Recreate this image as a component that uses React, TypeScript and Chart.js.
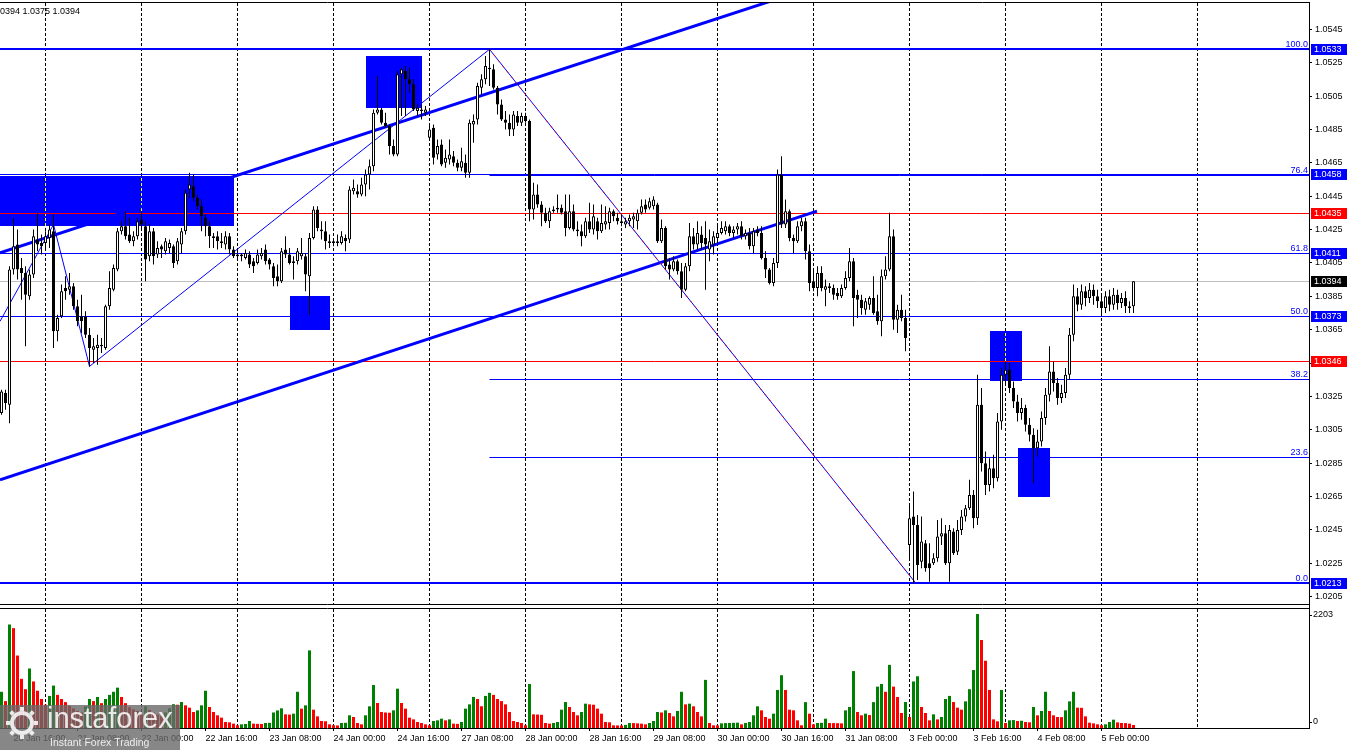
import React, { useEffect, useRef } from "react";
import { Chart, registerables } from "chart.js";

Chart.register(...registerables);

// ---------- data (EURUSD H1, 20 Jan 13:00 .. 5 Feb 08:00) ----------
const OPEN = [
  1.0315,1.0327,1.0320,1.0401,1.0416,1.0402,1.0399,1.0385,1.0398,1.0419,
  1.0417,1.0417,1.0420,1.0424,1.0364,1.0373,1.0390,1.0389,1.0391,1.0379,
  1.0373,1.0373,1.0362,1.0353,1.0354,1.0356,1.0354,1.0379,1.0389,1.0401,
  1.0424,1.0427,1.0422,1.0418,1.0421,1.0431,1.0427,1.0409,1.0424,1.0410,
  1.0415,1.0412,1.0414,1.0415,1.0406,1.0416,1.0424,1.0449,1.0451,1.0444,
  1.0439,1.0432,1.0427,1.0421,1.0421,1.0418,1.0416,1.0421,1.0413,1.0409,
  1.0409,1.0408,1.0410,1.0406,1.0405,1.0409,1.0413,1.0407,1.0403,1.0397,
  1.0394,1.0413,1.0410,1.0406,1.0406,1.0409,1.0409,1.0397,1.0420,1.0437,
  1.0425,1.0424,1.0417,1.0418,1.0417,1.0417,1.0420,1.0419,1.0448,1.0448,
  1.0446,1.0452,1.0458,1.0463,1.0495,1.0497,1.0489,1.0487,1.0475,1.0470,
  1.0518,1.0520,1.0515,1.0512,1.0496,1.0497,1.0495,1.0480,1.0486,1.0470,
  1.0476,1.0465,1.0467,1.0469,1.0465,1.0462,1.0465,1.0459,1.0488,1.0491,
  1.0510,1.0515,1.0522,1.0521,1.0510,1.0500,1.0491,1.0489,1.0485,1.0493,
  1.0489,1.0493,1.0490,1.0437,1.0446,1.0440,1.0435,1.0430,1.0436,1.0437,
  1.0438,1.0436,1.0426,1.0436,1.0425,1.0424,1.0421,1.0430,1.0425,1.0430,
  1.0424,1.0428,1.0429,1.0436,1.0432,1.0430,1.0428,1.0430,1.0431,1.0430,
  1.0435,1.0440,1.0438,1.0439,1.0440,1.0418,1.0426,1.0404,1.0401,1.0406,
  1.0400,1.0389,1.0403,1.0421,1.0416,1.0422,1.0420,1.0413,1.0416,1.0420,
  1.0423,1.0424,1.0427,1.0423,1.0425,1.0427,1.0421,1.0423,1.0415,1.0425,
  1.0423,1.0408,1.0401,1.0393,1.0405,1.0458,1.0428,1.0436,1.0420,1.0418,
  1.0427,1.0430,1.0412,1.0394,1.0390,1.0399,1.0389,1.0391,1.0390,1.0387,
  1.0385,1.0390,1.0396,1.0406,1.0386,1.0383,1.0377,1.0380,1.0384,1.0376,
  1.0370,1.0397,1.0401,1.0421,1.0371,1.0377,1.0372,1.0236,1.0253,1.0248,
  1.0226,1.0237,1.0225,1.0225,1.0228,1.0241,1.0243,1.0225,1.0244,1.0232,
  1.0245,1.0253,1.0258,1.0266,1.0252,1.0320,1.0285,1.0272,1.0282,1.0276,
  1.0310,1.0338,1.0341,1.0330,1.0322,1.0315,1.0318,1.0308,1.0302,1.0294,
  1.0298,1.0312,1.0326,1.0340,1.0333,1.0324,1.0327,1.0338,1.0362,1.0385,
  1.0380,1.0388,1.0384,1.0389,1.0385,1.0382,1.0378,1.0385,1.0380,1.0386,
  1.0381,1.0384,1.0379,1.0379,
];
const HIGH = [
  1.0329,1.0329,1.0403,1.0432,1.0425,1.0408,1.0403,1.0401,1.0425,1.0435,
  1.0422,1.0424,1.0428,1.0434,1.0374,1.0392,1.0397,1.0399,1.0393,1.0383,
  1.0386,1.0376,1.0366,1.0360,1.0362,1.0360,1.0380,1.0400,1.0404,1.0426,
  1.0430,1.0436,1.0432,1.0424,1.0432,1.0436,1.0430,1.0428,1.0426,1.0418,
  1.0416,1.0420,1.0419,1.0416,1.0420,1.0426,1.0449,1.0459,1.0458,1.0446,
  1.0443,1.0434,1.0430,1.0423,1.0424,1.0423,1.0424,1.0423,1.0415,1.0413,
  1.0411,1.0413,1.0412,1.0408,1.0413,1.0414,1.0416,1.0408,1.0405,1.0404,
  1.0414,1.0421,1.0414,1.0409,1.0414,1.0420,1.0411,1.0423,1.0439,1.0439,
  1.0430,1.0430,1.0422,1.0420,1.0422,1.0424,1.0422,1.0451,1.0455,1.0452,
  1.0456,1.0461,1.0467,1.0497,1.0517,1.0498,1.0495,1.0488,1.0479,1.0520,
  1.0522,1.0523,1.0522,1.0515,1.0500,1.0500,1.0499,1.0488,1.0488,1.0479,
  1.0479,1.0473,1.0479,1.0472,1.0467,1.0474,1.0470,1.0491,1.0494,1.0513,
  1.0518,1.0529,1.0533,1.0524,1.0511,1.0503,1.0496,1.0494,1.0496,1.0496,
  1.0495,1.0495,1.0491,1.0453,1.0452,1.0442,1.0438,1.0438,1.0439,1.0446,
  1.0440,1.0446,1.0446,1.0440,1.0430,1.0428,1.0432,1.0441,1.0440,1.0432,
  1.0440,1.0439,1.0438,1.0437,1.0435,1.0434,1.0432,1.0434,1.0435,1.0437,
  1.0443,1.0443,1.0444,1.0445,1.0441,1.0431,1.0427,1.0408,1.0409,1.0407,
  1.0405,1.0405,1.0429,1.0426,1.0430,1.0427,1.0430,1.0425,1.0424,1.0428,
  1.0430,1.0430,1.0428,1.0427,1.0429,1.0430,1.0425,1.0426,1.0426,1.0427,
  1.0427,1.0412,1.0402,1.0408,1.0461,1.0469,1.0443,1.0437,1.0422,1.0430,
  1.0432,1.0432,1.0416,1.0402,1.0403,1.0403,1.0395,1.0393,1.0392,1.0390,
  1.0392,1.0400,1.0414,1.0408,1.0389,1.0386,1.0384,1.0385,1.0397,1.0386,
  1.0401,1.0409,1.0435,1.0425,1.0380,1.0386,1.0377,1.0260,1.0268,1.0254,
  1.0253,1.0239,1.0237,1.0231,1.0251,1.0252,1.0248,1.0248,1.0246,1.0251,
  1.0257,1.0260,1.0275,1.0269,1.0338,1.0330,1.0292,1.0288,1.0290,1.0315,
  1.0342,1.0346,1.0345,1.0334,1.0326,1.0324,1.0320,1.0312,1.0306,1.0305,
  1.0316,1.0330,1.0355,1.0346,1.0336,1.0332,1.0342,1.0366,1.0392,1.0390,
  1.0392,1.0391,1.0393,1.0392,1.0389,1.0386,1.0388,1.0389,1.0390,1.0389,
  1.0387,1.0388,1.0382,1.0394,
];
const LOW = [
  1.0314,1.0317,1.0309,1.0398,1.0395,1.0383,1.0355,1.0383,1.0396,1.0412,
  1.0410,1.0414,1.0414,1.0354,1.0358,1.0372,1.0383,1.0386,1.0377,1.0367,
  1.0363,1.0360,1.0343,1.0345,1.0344,1.0351,1.0353,1.0377,1.0388,1.0400,
  1.0422,1.0419,1.0417,1.0415,1.0419,1.0426,1.0394,1.0406,1.0404,1.0408,
  1.0408,1.0410,1.0411,1.0402,1.0404,1.0411,1.0422,1.0444,1.0442,1.0437,
  1.0424,1.0421,1.0414,1.0414,1.0413,1.0414,1.0413,1.0410,1.0408,1.0407,
  1.0406,1.0407,1.0402,1.0399,1.0404,1.0407,1.0404,1.0401,1.0391,1.0391,
  1.0393,1.0408,1.0404,1.0395,1.0404,1.0407,1.0388,1.0374,1.0419,1.0424,
  1.0419,1.0413,1.0414,1.0415,1.0415,1.0416,1.0412,1.0417,1.0446,1.0444,
  1.0445,1.0445,1.0449,1.0460,1.0494,1.0488,1.0486,1.0470,1.0469,1.0469,
  1.0493,1.0493,1.0507,1.0496,1.0493,1.0491,1.0493,1.0479,1.0464,1.0467,
  1.0463,1.0462,1.0464,1.0463,1.0460,1.0460,1.0456,1.0456,1.0477,1.0488,
  1.0506,1.0512,1.0511,1.0509,1.0494,1.0490,1.0485,1.0481,1.0481,1.0487,
  1.0487,1.0489,1.0430,1.0431,1.0438,1.0427,1.0429,1.0426,1.0435,1.0435,
  1.0434,1.0421,1.0425,1.0424,1.0421,1.0415,1.0420,1.0423,1.0422,1.0419,
  1.0423,1.0425,1.0425,1.0430,1.0428,1.0427,1.0426,1.0427,1.0426,1.0425,
  1.0434,1.0435,1.0437,1.0437,1.0417,1.0417,1.0401,1.0395,1.0400,1.0398,
  1.0384,1.0388,1.0400,1.0413,1.0413,1.0413,1.0389,1.0406,1.0410,1.0417,
  1.0422,1.0422,1.0421,1.0420,1.0422,1.0419,1.0419,1.0413,1.0411,1.0421,
  1.0407,1.0396,1.0392,1.0391,1.0402,1.0426,1.0426,1.0418,1.0411,1.0417,
  1.0424,1.0407,1.0388,1.0388,1.0385,1.0388,1.0379,1.0387,1.0383,1.0383,
  1.0384,1.0389,1.0394,1.0367,1.0372,1.0374,1.0374,1.0377,1.0374,1.0368,
  1.0361,1.0395,1.0400,1.0365,1.0363,1.0370,1.0352,1.0227,1.0213,1.0215,
  1.0222,1.0220,1.0214,1.0224,1.0226,1.0236,1.0224,1.0214,1.0230,1.0230,
  1.0242,1.0250,1.0257,1.0246,1.0248,1.0280,1.0266,1.0268,1.0270,1.0274,
  1.0305,1.0333,1.0327,1.0318,1.0310,1.0311,1.0304,1.0298,1.0273,1.0289,
  1.0295,1.0308,1.0322,1.0328,1.0320,1.0321,1.0324,1.0335,1.0358,1.0376,
  1.0377,1.0379,1.0381,1.0380,1.0378,1.0374,1.0375,1.0376,1.0377,1.0377,
  1.0378,1.0375,1.0375,1.0375,
];
const CLOSE = [
  1.0328,1.0321,1.0401,1.0415,1.0401,1.0399,1.0386,1.0398,1.0421,1.0416,
  1.0415,1.0421,1.0425,1.0364,1.0372,1.0388,1.0388,1.0391,1.0379,1.0370,
  1.0370,1.0362,1.0354,1.0355,1.0356,1.0355,1.0379,1.0390,1.0402,1.0424,
  1.0427,1.0421,1.0418,1.0421,1.0430,1.0428,1.0407,1.0424,1.0409,1.0414,
  1.0413,1.0418,1.0417,1.0405,1.0418,1.0424,1.0447,1.0452,1.0444,1.0439,
  1.0433,1.0427,1.0421,1.0420,1.0418,1.0417,1.0421,1.0413,1.0409,1.0410,
  1.0410,1.0411,1.0404,1.0403,1.0410,1.0411,1.0406,1.0404,1.0396,1.0394,
  1.0412,1.0410,1.0405,1.0405,1.0412,1.0411,1.0398,1.0420,1.0437,1.0426,
  1.0424,1.0418,1.0418,1.0417,1.0418,1.0421,1.0418,1.0449,1.0450,1.0446,
  1.0452,1.0458,1.0463,1.0495,1.0497,1.0489,1.0487,1.0475,1.0470,1.0518,
  1.0521,1.0515,1.0512,1.0497,1.0498,1.0496,1.0497,1.0485,1.0468,1.0475,
  1.0464,1.0468,1.0470,1.0465,1.0462,1.0466,1.0459,1.0489,1.0490,1.0511,
  1.0515,1.0523,1.0521,1.0510,1.0500,1.0491,1.0489,1.0485,1.0494,1.0489,
  1.0493,1.0490,1.0437,1.0446,1.0440,1.0435,1.0430,1.0436,1.0437,1.0438,
  1.0435,1.0426,1.0436,1.0425,1.0424,1.0421,1.0430,1.0425,1.0433,1.0424,
  1.0429,1.0430,1.0436,1.0433,1.0430,1.0429,1.0430,1.0432,1.0433,1.0435,
  1.0439,1.0437,1.0442,1.0443,1.0418,1.0426,1.0403,1.0401,1.0406,1.0400,
  1.0389,1.0403,1.0421,1.0416,1.0423,1.0417,1.0416,1.0418,1.0421,1.0423,
  1.0426,1.0427,1.0423,1.0425,1.0427,1.0421,1.0423,1.0415,1.0424,1.0423,
  1.0408,1.0401,1.0393,1.0405,1.0458,1.0428,1.0436,1.0420,1.0418,1.0427,
  1.0430,1.0412,1.0393,1.0390,1.0399,1.0390,1.0391,1.0390,1.0386,1.0385,
  1.0390,1.0396,1.0406,1.0384,1.0383,1.0378,1.0382,1.0384,1.0375,1.0370,
  1.0397,1.0401,1.0421,1.0371,1.0377,1.0372,1.0360,1.0252,1.0248,1.0224,
  1.0238,1.0222,1.0222,1.0228,1.0241,1.0243,1.0225,1.0245,1.0231,1.0245,
  1.0253,1.0258,1.0266,1.0252,1.0320,1.0285,1.0272,1.0282,1.0276,1.0310,
  1.0338,1.0341,1.0330,1.0322,1.0315,1.0318,1.0308,1.0302,1.0294,1.0298,
  1.0312,1.0326,1.0340,1.0333,1.0324,1.0327,1.0338,1.0362,1.0385,1.0380,
  1.0388,1.0384,1.0389,1.0385,1.0382,1.0378,1.0385,1.0380,1.0386,1.0381,
  1.0384,1.0379,1.0378,1.0394,
];
const VOLUME = [
  700,520,2000,1930,1400,950,750,1150,900,720,
  560,450,620,820,640,560,500,430,380,330,
  300,420,560,520,600,480,560,640,700,780,
  600,480,400,360,330,260,420,350,300,260,
  230,300,380,460,450,502,438,393,309,341,
  438,720,406,309,245,200,116,110,84,52,
  71,78,135,84,80,78,97,100,300,340,
  380,264,260,277,700,374,438,1500,354,225,
  135,130,71,52,50,97,100,245,213,97,
  71,245,419,830,483,309,300,295,341,760,
  483,374,200,167,116,97,71,52,135,148,
  180,148,167,84,80,116,374,457,600,560,
  420,620,680,640,560,520,457,309,135,116,
  97,52,850,264,260,255,97,84,97,116,
  354,502,406,309,245,309,470,457,450,374,
  277,116,110,52,50,48,60,97,95,90,
  84,71,97,135,309,300,341,290,225,328,
  700,457,470,419,309,225,930,97,52,50,
  90,95,98,100,103,71,97,116,245,419,
  341,213,180,277,735,1020,735,354,341,148,
  52,500,277,71,97,100,180,97,95,93,
  90,341,406,1100,309,245,277,250,500,800,
  850,700,1220,800,600,290,503,213,900,1000,
  406,290,148,264,167,213,560,620,502,393,
  354,515,750,1120,2203,1700,1300,735,167,129,
  735,97,148,153,135,140,116,110,406,245,
  328,700,328,245,213,210,341,515,700,393,
  390,225,103,90,71,52,71,116,161,109,
  97,95,84,58,
];

// ---------- axis labels ----------
const X_TICK_INDEX = [3,19,35,51,67,83,99,115,131,147,163,179,195,211,227,243,259,275];
const X_TICK_LABELS = [
  "20 Jan 16:00","21 Jan 08:00","22 Jan 00:00","22 Jan 16:00","23 Jan 08:00","24 Jan 00:00",
  "24 Jan 16:00","27 Jan 08:00","28 Jan 00:00","28 Jan 16:00","29 Jan 08:00","30 Jan 00:00",
  "30 Jan 16:00","31 Jan 08:00","3 Feb 00:00","3 Feb 16:00","4 Feb 08:00","5 Feb 00:00",
];
const DAY_START_INDEX = [11,35,59,83,107,131,155,179,203,227,251,275,299];
const PRICE_TICKS = [
  1.0205,1.0225,1.0245,1.0265,1.0285,1.0305,1.0325,1.0345,1.0365,
  1.0385,1.0405,1.0425,1.0445,1.0465,1.0485,1.0505,1.0525,1.0545,
];
const VOLUME_TICKS = [2203, 0];

// ---------- chart objects ----------
const H_LINES = [1.0533, 1.0458, 1.0435, 1.0411, 1.0373, 1.0346, 1.0213];
const H_LINE_COLORS = ["#0000ff","#0000ff","#ff0000","#0000ff","#0000ff","#ff0000","#0000ff"];
const H_LINE_WIDTHS = [2, 1, 1, 1, 1, 1, 2];
const CURRENT_PRICE = 1.0394;
const PRICE_TAGS = [1.0533, 1.0458, 1.0435, 1.0411, 1.0394, 1.0373, 1.0346, 1.0213];
const PRICE_TAG_COLORS = ["#0000ff","#0000ff","#ff0000","#0000ff","#000000","#0000ff","#ff0000","#0000ff"];

const FIB_LEVELS = [0, 23.6, 38.2, 50, 61.8, 76.4, 100];
const FIB_HIGH = 1.0533;
const FIB_LOW = 1.0213;
const FIB_START = 122;
const FIB_END = 228.6;

const RECT_X1 = [-5, 91, 72, 247, 254];
const RECT_X2 = [58, 105, 82, 255, 262];
const RECT_TOP = [1.0457, 1.0529, 1.0385, 1.0364, 1.0294];
const RECT_BOTTOM = [1.0427, 1.0498, 1.0365, 1.0334, 1.0265];

const CHANNEL_X1 = [-0.375, -0.375];
const CHANNEL_P1 = [1.0275, 1.0411];
const CHANNEL_X2 = [203.875, 195];
const CHANNEL_P2 = [1.0436, 1.0564];

const ZIGZAG_X = [-0.375, 13, 22, 122];
const ZIGZAG_P = [1.0370, 1.0428, 1.0343, 1.0533];

// ---------- layout constants ----------
const PRICE_MIN = 1.012631;
const PRICE_MAX = 1.056076;
const PRICE_PANEL_BOTTOM = 1.020062;
const VOLUME_AXIS_MAX = 14010;
const VOLUME_PANEL_TOP = 2300;
const FONT = '"Liberation Sans", Arial, sans-serif';

const overlayPlugin = {
  id: "mt4overlay",
  beforeDraw(chart: any) {
    const { ctx } = chart;
    ctx.save();
    ctx.fillStyle = "#ffffff";
    ctx.fillRect(0, 0, chart.width, chart.height);
    ctx.restore();
  },
  beforeDatasetsDraw(chart: any) {
    const { ctx, chartArea } = chart;
    const xs = chart.scales.x, ys = chart.scales.y, vs = chart.scales.yv;
    const px = (i: number) => xs.getPixelForValue(i);
    const py = (p: number) => ys.getPixelForValue(p);
    const left = chartArea.left, right = chartArea.right, top = chartArea.top;
    const pBottom = Math.round(py(PRICE_PANEL_BOTTOM));
    const vTop = Math.round(vs.getPixelForValue(VOLUME_PANEL_TOP));
    const vBottom = chartArea.bottom;

    ctx.save();
    // separators in volume panel
    ctx.strokeStyle = "#000";
    ctx.lineWidth = 1;
    ctx.setLineDash([3, 2]);
    for (const d of DAY_START_INDEX) {
      const x = Math.floor(px(d)) + 0.5;
      ctx.beginPath(); ctx.moveTo(x, vTop); ctx.lineTo(x, vBottom); ctx.stroke();
    }
    ctx.setLineDash([]);

    // clip to price panel
    ctx.beginPath();
    ctx.rect(left, top, right - left, pBottom - top);
    ctx.clip();

    // rectangles
    ctx.fillStyle = "#0000ff";
    RECT_X1.forEach((x1, k) => {
      const a = Math.round(px(x1)), b = Math.round(px(RECT_X2[k]));
      const t = Math.round(py(RECT_TOP[k])), bt = Math.round(py(RECT_BOTTOM[k]));
      ctx.fillRect(a, t, b - a, bt - t);
    });

    // day separators (inverted over objects)
    ctx.save();
    ctx.globalCompositeOperation = "difference";
    ctx.strokeStyle = "#ffffff";
    ctx.setLineDash([3, 2]);
    for (const d of DAY_START_INDEX) {
      const x = Math.floor(px(d)) + 0.5;
      ctx.beginPath(); ctx.moveTo(x, top); ctx.lineTo(x, pBottom); ctx.stroke();
    }
    ctx.restore();

    const hline = (p: number, color: string, w: number, x0: number) => {
      const y = Math.round(py(p)) + (w % 2 ? 0.5 : 0);
      ctx.strokeStyle = color;
      ctx.lineWidth = w;
      ctx.beginPath(); ctx.moveTo(x0, y); ctx.lineTo(right, y); ctx.stroke();
    };
    hline(CURRENT_PRICE, "#c0c0c0", 1, left);
    FIB_LEVELS.forEach((l) => hline(FIB_LOW + ((FIB_HIGH - FIB_LOW) * l) / 100, "#0000ff", 1, px(FIB_START)));
    H_LINES.forEach((p, k) => hline(p, H_LINE_COLORS[k], H_LINE_WIDTHS[k], left));

    // channel lines
    ctx.strokeStyle = "#0000ff";
    ctx.lineWidth = 3;
    CHANNEL_X1.forEach((x1, k) => {
      ctx.beginPath();
      ctx.moveTo(px(x1), py(CHANNEL_P1[k]));
      ctx.lineTo(px(CHANNEL_X2[k]), py(CHANNEL_P2[k]));
      ctx.stroke();
    });

    // zigzag thin line
    ctx.lineWidth = 1;
    ctx.beginPath();
    ZIGZAG_X.forEach((x, k) => {
      const X = px(x), Y = py(ZIGZAG_P[k]);
      if (k === 0) ctx.moveTo(X, Y); else ctx.lineTo(X, Y);
    });
    ctx.stroke();

    // fibo base line (blue / red dotted)
    const fx1 = px(FIB_START), fy1 = py(FIB_HIGH), fx2 = px(FIB_END), fy2 = py(FIB_LOW);
    ctx.strokeStyle = "#0000ff";
    ctx.beginPath(); ctx.moveTo(fx1, fy1); ctx.lineTo(fx2, fy2); ctx.stroke();
    ctx.strokeStyle = "#ff0000";
    ctx.setLineDash([2, 5]);
    ctx.beginPath(); ctx.moveTo(fx1, fy1); ctx.lineTo(fx2, fy2); ctx.stroke();
    ctx.setLineDash([]);
    ctx.restore();
  },
  afterDraw(chart: any) {
    const { ctx, chartArea } = chart;
    const xs = chart.scales.x, ys = chart.scales.y, vs = chart.scales.yv;
    const py = (p: number) => ys.getPixelForValue(p);
    const right = chartArea.right, top = chartArea.top;
    const pBottom = Math.round(py(PRICE_PANEL_BOTTOM));
    const vTop = Math.round(vs.getPixelForValue(VOLUME_PANEL_TOP));
    ctx.save();

    // gap between panels + borders
    ctx.fillStyle = "#ffffff";
    ctx.fillRect(0, pBottom + 1, right, vTop - pBottom - 2);
    ctx.strokeStyle = "#000";
    ctx.lineWidth = 1;
    const hl = (y: number) => { ctx.beginPath(); ctx.moveTo(0, y); ctx.lineTo(right + 1, y); ctx.stroke(); };
    hl(top - 0.5);
    hl(pBottom + 0.5);
    hl(vTop - 0.5);

    // price tags
    ctx.font = `9px ${FONT}`;
    ctx.textBaseline = "middle";
    ctx.textAlign = "left";
    PRICE_TAGS.forEach((p, k) => {
      const y = Math.round(py(p));
      ctx.fillStyle = PRICE_TAG_COLORS[k];
      ctx.fillRect(right + 2, y - 5, 36, 11);
      ctx.fillStyle = "#ffffff";
      ctx.fillText(p.toFixed(4), right + 5, y + 0.5);
    });

    // fibo level labels
    ctx.fillStyle = "#0000ff";
    ctx.textAlign = "right";
    ctx.textBaseline = "alphabetic";
    FIB_LEVELS.forEach((l) => {
      const y = Math.round(py(FIB_LOW + ((FIB_HIGH - FIB_LOW) * l) / 100));
      ctx.fillText(l.toFixed(1), right - 1, y - 2);
    });

    // volume axis labels
    ctx.fillStyle = "#000";
    ctx.textAlign = "left";
    ctx.textBaseline = "middle";
    VOLUME_TICKS.forEach((v) => {
      const y = vs.getPixelForValue(v);
      const ly = v === 0 ? y - 6 : y + 1;
      ctx.beginPath(); ctx.moveTo(right, Math.round(ly) + 0.5); ctx.lineTo(right + 3, Math.round(ly) + 0.5); ctx.stroke();
      ctx.fillText(String(v), right + 4, ly);
    });

    // OHLC text of last bar (truncated at the left edge)
    const last = CLOSE.length - 1;
    ctx.textBaseline = "alphabetic";
    ctx.fillText(
      `${HIGH[last].toFixed(4).slice(2)} ${LOW[last].toFixed(4)} ${CLOSE[last].toFixed(4)}`,
      0,
      14
    );

    // watermark
    ctx.fillStyle = "rgba(105,105,105,0.8)";
    ctx.fillRect(0, 705, 180, 45);
    ctx.strokeStyle = "rgba(255,255,255,0.85)";
    ctx.lineWidth = 4;
    ctx.beginPath(); ctx.arc(22, 723, 10, 0, Math.PI * 2); ctx.stroke();
    ctx.lineWidth = 4;
    for (let k = 0; k < 8; k++) {
      const a = (k * Math.PI) / 4;
      ctx.beginPath();
      ctx.moveTo(22 + Math.cos(a) * 12, 723 + Math.sin(a) * 12);
      ctx.lineTo(22 + Math.cos(a) * 16, 723 + Math.sin(a) * 16);
      ctx.stroke();
    }
    ctx.fillStyle = "rgba(255,255,255,0.85)";
    ctx.font = `29px ${FONT}`;
    ctx.fillText("instaforex", 47, 728);
    ctx.font = `10.5px ${FONT}`;
    ctx.fillText("Instant Forex Trading", 50, 746);
    ctx.restore();
  },
};

export default function App() {
  const ref = useRef<HTMLCanvasElement | null>(null);

  useEffect(() => {
    const canvas = ref.current;
    if (!canvas) return;
    const idx = CLOSE.map((_, i) => i);
    const wickData = idx.map((i) => ({ x: i, y: [LOW[i], HIGH[i]] }));
    const bodyData = idx.map((i) => ({ x: i, y: [OPEN[i], CLOSE[i]] }));
    const bodyColors = idx.map((i) => (CLOSE[i] >= OPEN[i] ? "#ffffff" : "#000000"));
    const volData = idx.map((i) => ({ x: i, y: VOLUME[i] }));
    const volColors = idx.map((i) => (i === 0 || VOLUME[i] > VOLUME[i - 1] ? "#008000" : "#ff0000"));

    const chart = new Chart(canvas, {
      type: "bar",
      data: {
        datasets: [
          {
            label: "wick",
            data: wickData as any,
            backgroundColor: "#000000",
            borderWidth: 0,
            barThickness: 1,
            grouped: false,
            inflateAmount: 0,
            yAxisID: "y",
            order: 3,
          } as any,
          {
            label: "body",
            data: bodyData as any,
            backgroundColor: bodyColors,
            borderColor: "#000000",
            borderWidth: 1,
            borderSkipped: false,
            barThickness: 3,
            minBarLength: 1,
            grouped: false,
            inflateAmount: 0,
            yAxisID: "y",
            order: 2,
          } as any,
          {
            label: "volume",
            data: volData as any,
            backgroundColor: volColors,
            borderWidth: 0,
            barThickness: 3,
            grouped: false,
            inflateAmount: 0,
            yAxisID: "yv",
            order: 1,
          } as any,
        ],
      },
      options: {
        responsive: false,
        animation: false,
        devicePixelRatio: 1,
        events: [],
        layout: { padding: { top: 3, left: 0, right: 0, bottom: 0 } },
        plugins: { legend: { display: false }, tooltip: { enabled: false } },
        scales: {
          x: {
            type: "linear",
            min: -0.375,
            max: 326.875,
            offset: false,
            bounds: "data",
            afterBuildTicks: (s: any) => {
              s.ticks = X_TICK_INDEX.map((v) => ({ value: v }));
            },
            afterFit: (s: any) => {
              s.height = 22;
              s.paddingLeft = 0;
              s.paddingRight = 0;
            },
            ticks: {
              autoSkip: false,
              maxRotation: 0,
              align: "start",
              padding: 2,
              color: "#000",
              font: { family: FONT, size: 9 },
              callback: (v: any) => {
                const k = X_TICK_INDEX.indexOf(Number(v));
                return k >= 0 ? X_TICK_LABELS[k] : "";
              },
            },
            grid: { display: true, drawOnChartArea: false, drawTicks: true, tickLength: 3, color: "#000", offset: false },
            border: { display: true, color: "#000" },
          } as any,
          y: {
            type: "linear",
            position: "right",
            min: PRICE_MIN,
            max: PRICE_MAX,
            bounds: "data",
            afterBuildTicks: (s: any) => {
              s.ticks = PRICE_TICKS.map((v) => ({ value: v }));
            },
            afterFit: (s: any) => {
              s.width = 41;
              s.paddingTop = 0;
              s.paddingBottom = 0;
            },
            ticks: {
              autoSkip: false,
              padding: 3,
              color: "#000",
              font: { family: FONT, size: 9 },
              callback: (v: any) => Number(v).toFixed(4),
            },
            grid: { display: true, drawOnChartArea: false, drawTicks: true, tickLength: 3, color: "#000" },
            border: { display: true, color: "#000" },
          } as any,
          yv: {
            type: "linear",
            position: "right",
            display: false,
            min: 0,
            max: VOLUME_AXIS_MAX,
            bounds: "data",
          } as any,
        },
      } as any,
      plugins: [overlayPlugin],
    });
    return () => chart.destroy();
  }, []);

  return (
    <div style={{ position: "fixed", left: 0, top: 0, width: 1350, height: 750, background: "#ffffff" }}>
      <canvas ref={ref} width={1350} height={750} style={{ display: "block", width: 1350, height: 750 }} />
    </div>
  );
}
